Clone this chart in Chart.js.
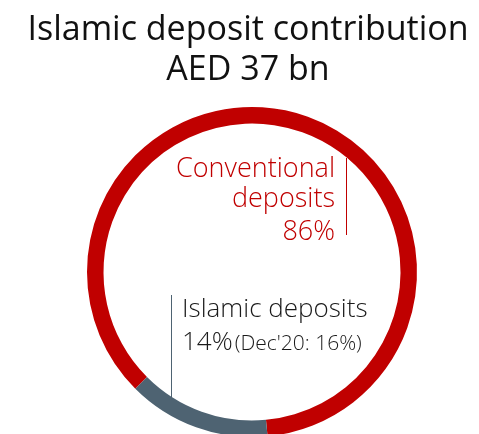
<!DOCTYPE html>
<html>
<head>
<meta charset="utf-8">
<script src="https://cdn.jsdelivr.net/npm/chart.js@4/dist/chart.umd.min.js"></script>
<style>
  html, body { margin: 0; padding: 0; background: #fff; overflow: hidden; }
  #wrap { position: absolute; left: 0; top: 0; width: 479px; height: 460px; }
</style>
</head>
<body>
<div id="wrap"><canvas id="grafico"></canvas></div>
<script>
// --- Datos ---
const categorias = ['Conventional deposits', 'Islamic deposits'];
const valores = [86, 14];
const colores = ['#C00000', '#4E6372'];
const titulo = ['Islamic deposit contribution', 'AED 37 bn'];
const comparacion = "(Dec'20: 16%)";

const FUENTE = '"Open Sans", Lato, sans-serif';

// Titulo y etiquetas con lineas guia dibujadas sobre el canvas
const etiquetasPlugin = {
    id: 'etiquetas',
    afterDraw(chart) {
        const arc = chart.getDatasetMeta(0).data[0];
        const cx = arc.x, cy = arc.y;
        const ctx = chart.ctx;
        ctx.save();
        ctx.textBaseline = 'alphabetic';

        // Titulo
        ctx.fillStyle = '#111';
        ctx.textAlign = 'center';
        ctx.font = '34px ' + FUENTE;
        ctx.fillText(titulo[0], 248, 40);
        ctx.fillText(titulo[1], 248, 80);

        // Convencional
        ctx.strokeStyle = colores[0];
        ctx.lineWidth = 1;
        ctx.beginPath();
        ctx.moveTo(cx + 94.5, cy - 114);
        ctx.lineTo(cx + 94.5, cy - 37);
        ctx.stroke();

        ctx.fillStyle = colores[0];
        ctx.font = '300 27px ' + FUENTE;
        ctx.textAlign = 'right';
        ctx.fillText('Conventional', cx + 83, cy - 95);
        ctx.fillText('deposits', cx + 83, cy - 65);
        ctx.fillText(valores[0] + '%', cx + 83, cy - 32);

        // Islamica
        ctx.strokeStyle = colores[1];
        ctx.beginPath();
        ctx.moveTo(cx - 80.5, cy + 23);
        ctx.lineTo(cx - 80.5, cy + 125);
        ctx.stroke();

        ctx.fillStyle = '#1a1a1a';
        ctx.textAlign = 'left';
        ctx.font = '300 26px ' + FUENTE;
        ctx.fillText('Islamic deposits', cx - 70, cy + 45);
        const pct = valores[1] + '%';
        ctx.fillText(pct, cx - 70, cy + 78);
        const w = ctx.measureText(pct).width;
        ctx.font = '300 21px ' + FUENTE;
        ctx.fillText(comparacion, cx - 70 + w + 2, cy + 78);

        ctx.restore();
    }
};

const ctxGrafico = document.getElementById('grafico').getContext('2d');
new Chart(ctxGrafico, {
    type: 'doughnut',
    data: {
        labels: categorias,
        datasets: [{
            data: valores,
            backgroundColor: colores,
            borderWidth: 0
        }]
    },
    options: {
        responsive: true,
        maintainAspectRatio: false,
        animation: false,
        rotation: 225,
        cutout: '90%',
        layout: { padding: { left: 87, right: 62, top: 107, bottom: 23 } },
        plugins: {
            legend: { display: false },
            tooltip: { enabled: false },
            title: { display: false }
        }
    },
    plugins: [etiquetasPlugin]
});
</script>
</body>
</html>
